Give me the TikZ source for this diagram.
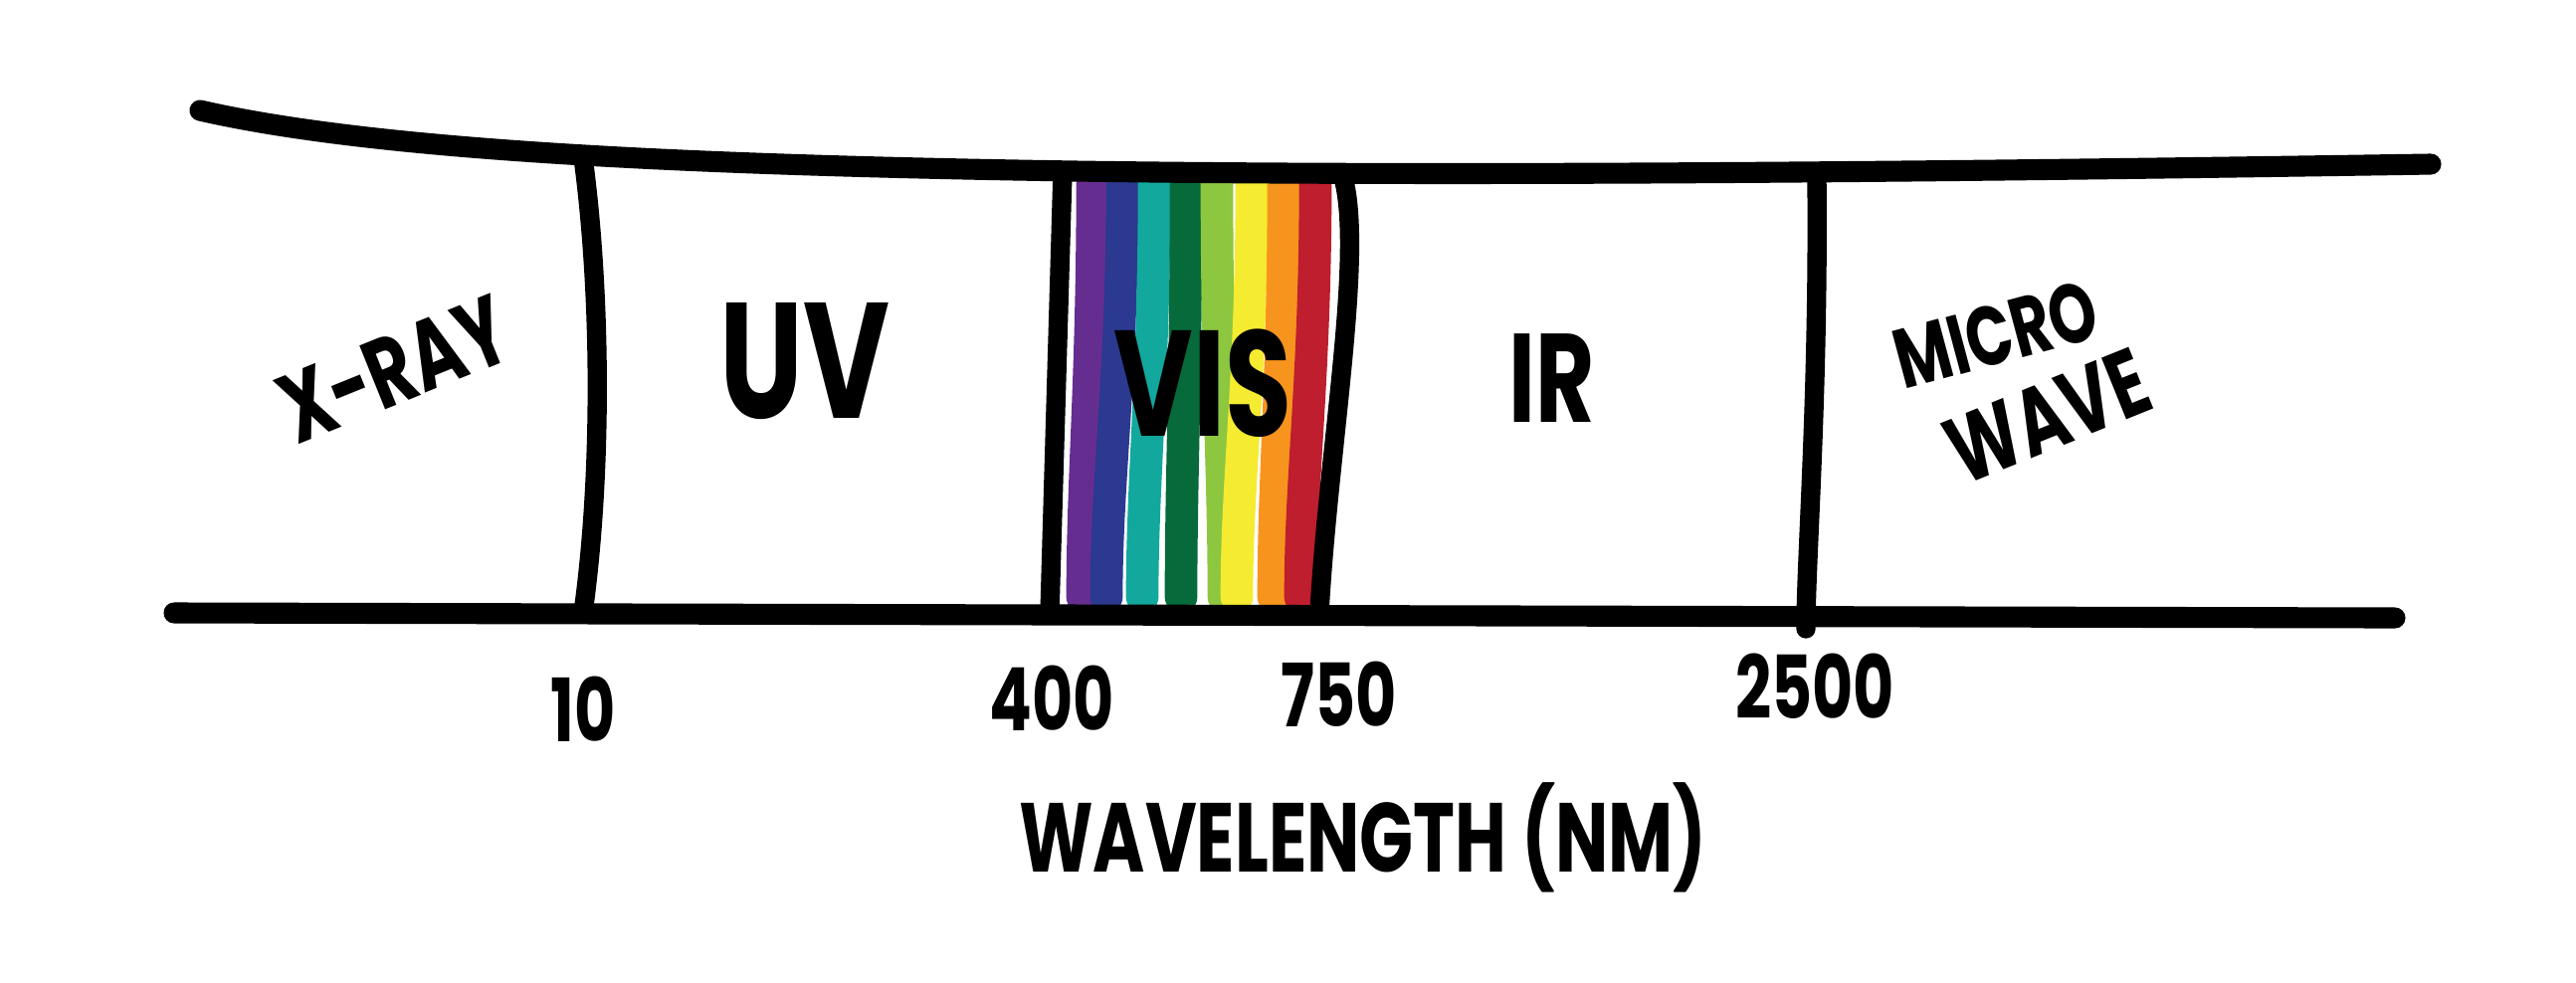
\documentclass[tikz,border=0pt]{standalone}
\usepackage{fontspec}
\newfontfamily\handfont{Poppins}[FakeStretch=0.72]

\definecolor{vis-violet}{RGB}{102, 45, 145}
\definecolor{vis-blue}{RGB}{ 43, 57, 144}
\definecolor{vis-teal}{RGB}{ 18, 168, 157}
\definecolor{vis-green}{RGB}{  6, 106, 58}
\definecolor{vis-lime}{RGB}{141, 198, 63}
\definecolor{vis-yellow}{RGB}{245, 235, 48}
\definecolor{vis-orange}{RGB}{247, 148, 30}
\definecolor{vis-red}{RGB}{190, 30, 45}

\tikzset{
  rail/.style={line width=6pt, line cap=round},
  divider/.style={line width=5.5pt, line cap=round},
  band/.style={line width=9.3pt, line cap=round},
  hand/.style={font=\handfont\bfseries\fontsize{#1}{#1}\selectfont, inner sep=0pt},
}

\begin{document}
\begin{tikzpicture}[x=0.01cm, y=-0.01cm]
    \useasboundingbox (0,0) rectangle (2589,987);

    % visible band
    \foreach \col/\xt/\xb in {vis-violet/1098/1088, vis-blue/1128/1112,
        vis-teal/1160/1148, vis-green/1192/1187, vis-lime/1223/1230,
        vis-yellow/1258/1243, vis-orange/1290/1280, vis-red/1322/1307}
      \draw[band, \col] (\xt,185) .. controls (\xt,380) and (\xb,480) .. (\xb,600);

    % rails
    \draw[rail] (201,111) .. controls (380,152) and (700,166) .. (1080,172)
        .. controls (1500,178) and (2000,172) .. (2443,165);
    \draw[rail] (175,616) -- (2407,621);

    % dividers
    \draw[divider] (586,158) .. controls (605,300) and (605,480) .. (586,616);
    \draw[divider] (1068,172) -- (1055,616);
    \draw[divider] (1349,175) .. controls (1372,250) and (1335,450) .. (1326,616);
    \draw[divider] (1826,180) .. controls (1828,400) and (1815,560) .. (1815,632);

    % regions
    \node[hand=28, rotate=22] (xray) at (396,371) {X-RAY};
    \node[hand=47] (uv) at (809,363) {UV};
    \node[hand=43] (vis) at (1209,385) {VIS};
    \node[hand=36] (ir) at (1560,380) {IR};
    \node[hand=24, rotate=15] (micro) at (2006,336) {MICRO};
    \node[hand=27, rotate=22] (wave) at (2058,418) {WAVE};

    % ticks
    \node[hand=25] (t10) at (586,713) {10};
    \node[hand=25] (t400) at (1057,702) {400};
    \node[hand=25] (t750) at (1346,698) {750};
    \node[hand=25] (t2500) at (1824,690) {2500};

    \node[hand=28] (wavelength) at (1370,842) {WAVELENGTH (NM)};
\end{tikzpicture}
\end{document}
